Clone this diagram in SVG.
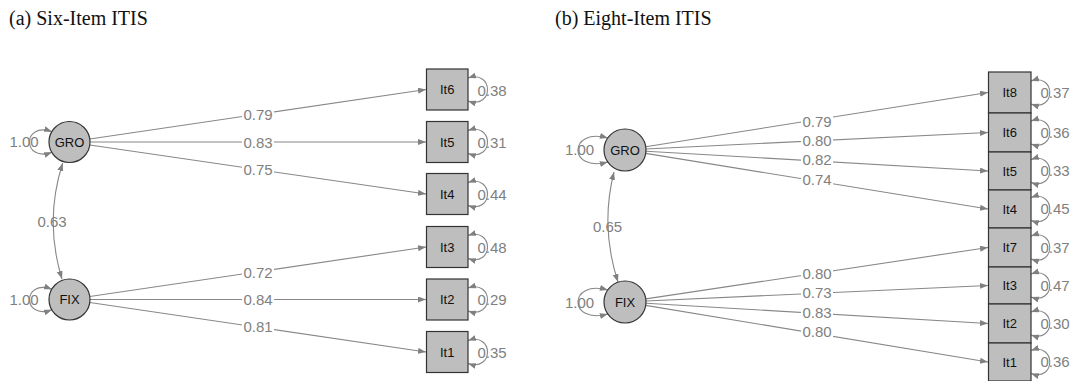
<svg xmlns="http://www.w3.org/2000/svg" width="1071" height="381" viewBox="0 0 1071 381">
<style>
.title{font-family:"Liberation Serif","Times New Roman",serif;font-size:20px;fill:#111}
.node circle,.node rect{fill:#bebebe;stroke:#333;stroke-width:1.2}
.nt{font-family:"Liberation Sans",Arial,sans-serif;font-size:13px;fill:#111;text-anchor:middle}
.lbl{font-family:"Liberation Sans",Arial,sans-serif;font-size:15px;fill:#808080;text-anchor:middle}
.edge{stroke:#888;stroke-width:1.1;fill:none;marker-end:url(#ah)}
.loop{stroke:#888;stroke-width:1.1;fill:none;marker-start:url(#ah);marker-end:url(#ah)}
.bg{fill:#fff}
</style>
<defs>
<marker id="ah" markerUnits="userSpaceOnUse" markerWidth="9" markerHeight="7" refX="8" refY="3" orient="auto-start-reverse">
<path d="M0,0 L8,3 L0,6 z" fill="#808080"/>
</marker>
</defs>
<rect width="1071" height="381" fill="#fff"/>
<text class="title" x="9" y="25">(a) Six-Item ITIS</text>
<text class="title" x="555" y="25">(b) Eight-Item ITIS</text>

<g id="connectors">
<!-- panel a -->
<path class="edge" d="M89.8,139 L426,89.5"/>
<path class="edge" d="M90,142 L426,142"/>
<path class="edge" d="M89.8,145 L426,194"/>
<path class="edge" d="M89.8,296.5 L426,247"/>
<path class="edge" d="M90,299.5 L426,299.5"/>
<path class="edge" d="M89.8,302.5 L426,352"/>
<path class="loop" d="M52,131.7 C22,121 22,163 52,152.3"/>
<path class="loop" d="M52,289.2 C22,278.5 22,320.5 52,309.8"/>
<path class="loop" d="M62.7,163 Q44,221 62,279"/>
<path class="loop" d="M468,78 C494,69.5 494,109.5 468,101"/>
<path class="loop" d="M468,130.5 C494,122 494,162 468,153.5"/>
<path class="loop" d="M468,182.5 C494,174 494,214 468,205.5"/>
<path class="loop" d="M468,235.5 C494,227 494,267 468,258.5"/>
<path class="loop" d="M468,288 C494,279.5 494,319.5 468,311"/>
<path class="loop" d="M468,340.5 C494,332 494,372 468,363.5"/>
<!-- panel b -->
<path class="edge" d="M645.7,146.7 L988,92.5"/>
<path class="edge" d="M646,149 L988,132.5"/>
<path class="edge" d="M646,151.2 L988,171"/>
<path class="edge" d="M645.7,153.4 L988,209"/>
<path class="edge" d="M645.8,298.9 L988,247.5"/>
<path class="edge" d="M646,301 L988,285.5"/>
<path class="edge" d="M646,303.2 L988,323.5"/>
<path class="edge" d="M645.7,305.4 L988,362"/>
<path class="loop" d="M607.8,138 C568,127 568,173 607.8,162"/>
<path class="loop" d="M607.8,290 C568,279 568,325 607.8,314"/>
<path class="loop" d="M614,172 Q600,227 618,282"/>
<path class="loop" d="M1031,81 C1056,72.5 1056,112.5 1031,104"/>
<path class="loop" d="M1031,121 C1056,112.5 1056,152.5 1031,144"/>
<path class="loop" d="M1031,159.5 C1056,151 1056,191 1031,182.5"/>
<path class="loop" d="M1031,197.5 C1056,189 1056,229 1031,220.5"/>
<path class="loop" d="M1031,236 C1056,227.5 1056,267.5 1031,259"/>
<path class="loop" d="M1031,274 C1056,265.5 1056,305.5 1031,297"/>
<path class="loop" d="M1031,312 C1056,303.5 1056,343.5 1031,335"/>
<path class="loop" d="M1031,350.5 C1056,342 1056,382 1031,373.5"/>
</g>

<g id="edge-labels">
<rect class="bg" x="242" y="107" width="32" height="15"/><text class="lbl" x="258" y="120">0.79</text>
<rect class="bg" x="242" y="135" width="32" height="15"/><text class="lbl" x="258" y="147.5">0.83</text>
<rect class="bg" x="242" y="162" width="32" height="15"/><text class="lbl" x="258" y="174.5">0.75</text>
<rect class="bg" x="242" y="265" width="32" height="15"/><text class="lbl" x="258" y="277.5">0.72</text>
<rect class="bg" x="242" y="292" width="32" height="15"/><text class="lbl" x="258" y="305">0.84</text>
<rect class="bg" x="242" y="319" width="32" height="15"/><text class="lbl" x="258" y="332">0.81</text>
<text class="lbl" x="24" y="147">1.00</text>
<text class="lbl" x="24" y="304.5">1.00</text>
<text class="lbl" x="52" y="227">0.63</text>
<text class="lbl" x="492" y="95.5">0.38</text>
<text class="lbl" x="492" y="147.5">0.31</text>
<text class="lbl" x="492" y="199.5">0.44</text>
<text class="lbl" x="492" y="252.5">0.48</text>
<text class="lbl" x="492" y="305">0.29</text>
<text class="lbl" x="492" y="357.5">0.35</text>

<rect class="bg" x="801" y="113" width="32" height="14"/><text class="lbl" x="817" y="126.5">0.79</text>
<rect class="bg" x="801" y="134" width="32" height="14"/><text class="lbl" x="817" y="146">0.80</text>
<rect class="bg" x="801" y="153" width="32" height="14"/><text class="lbl" x="817" y="165">0.82</text>
<rect class="bg" x="801" y="172" width="32" height="14"/><text class="lbl" x="817" y="184.5">0.74</text>
<rect class="bg" x="801" y="266" width="32" height="14"/><text class="lbl" x="817" y="279">0.80</text>
<rect class="bg" x="801" y="286" width="32" height="14"/><text class="lbl" x="817" y="298">0.73</text>
<rect class="bg" x="801" y="305" width="32" height="14"/><text class="lbl" x="817" y="317.5">0.83</text>
<rect class="bg" x="801" y="324" width="32" height="14"/><text class="lbl" x="817" y="337">0.80</text>
<text class="lbl" x="579.5" y="155">1.00</text>
<text class="lbl" x="579.5" y="307.5">1.00</text>
<text class="lbl" x="607.5" y="232">0.65</text>
<text class="lbl" x="1055" y="97.5">0.37</text>
<text class="lbl" x="1055" y="137.5">0.36</text>
<text class="lbl" x="1055" y="176">0.33</text>
<text class="lbl" x="1055" y="214">0.45</text>
<text class="lbl" x="1055" y="252.5">0.37</text>
<text class="lbl" x="1055" y="290.5">0.47</text>
<text class="lbl" x="1055" y="328.5">0.30</text>
<text class="lbl" x="1055" y="367">0.36</text>
</g>

<g id="a-GRO" class="node"><circle cx="69.5" cy="142" r="20.5"/><text class="nt" x="69.5" y="146.5">GRO</text></g>
<g id="a-FIX" class="node"><circle cx="69.5" cy="299.5" r="20.5"/><text class="nt" x="69.5" y="304">FIX</text></g>
<g id="a-It6" class="node"><rect x="426.5" y="69" width="41.5" height="41"/><text class="nt" x="447.2" y="94">It6</text></g>
<g id="a-It5" class="node"><rect x="426.5" y="121.5" width="41.5" height="41"/><text class="nt" x="447.2" y="146.5">It5</text></g>
<g id="a-It4" class="node"><rect x="426.5" y="173.5" width="41.5" height="41"/><text class="nt" x="447.2" y="198.5">It4</text></g>
<g id="a-It3" class="node"><rect x="426.5" y="226.5" width="41.5" height="41"/><text class="nt" x="447.2" y="251.5">It3</text></g>
<g id="a-It2" class="node"><rect x="426.5" y="279" width="41.5" height="41"/><text class="nt" x="447.2" y="304">It2</text></g>
<g id="a-It1" class="node"><rect x="426.5" y="331.5" width="41.5" height="41"/><text class="nt" x="447.2" y="356.5">It1</text></g>

<g id="b-GRO" class="node"><circle cx="625" cy="150" r="21"/><text class="nt" x="625" y="154.5">GRO</text></g>
<g id="b-FIX" class="node"><circle cx="625" cy="302" r="21"/><text class="nt" x="625" y="306.5">FIX</text></g>
<g id="b-It8" class="node"><rect x="988.5" y="72" width="42.5" height="41"/><text class="nt" x="1009.7" y="97">It8</text></g>
<g id="b-It6" class="node"><rect x="988.5" y="113" width="42.5" height="39"/><text class="nt" x="1009.7" y="137">It6</text></g>
<g id="b-It5" class="node"><rect x="988.5" y="152" width="42.5" height="38"/><text class="nt" x="1009.7" y="175.5">It5</text></g>
<g id="b-It4" class="node"><rect x="988.5" y="190" width="42.5" height="38"/><text class="nt" x="1009.7" y="213.5">It4</text></g>
<g id="b-It7" class="node"><rect x="988.5" y="228" width="42.5" height="39"/><text class="nt" x="1009.7" y="252">It7</text></g>
<g id="b-It3" class="node"><rect x="988.5" y="267" width="42.5" height="37"/><text class="nt" x="1009.7" y="290">It3</text></g>
<g id="b-It2" class="node"><rect x="988.5" y="304" width="42.5" height="39"/><text class="nt" x="1009.7" y="328">It2</text></g>
<g id="b-It1" class="node"><rect x="988.5" y="343" width="42.5" height="38"/><text class="nt" x="1009.7" y="366.5">It1</text></g>
</svg>
